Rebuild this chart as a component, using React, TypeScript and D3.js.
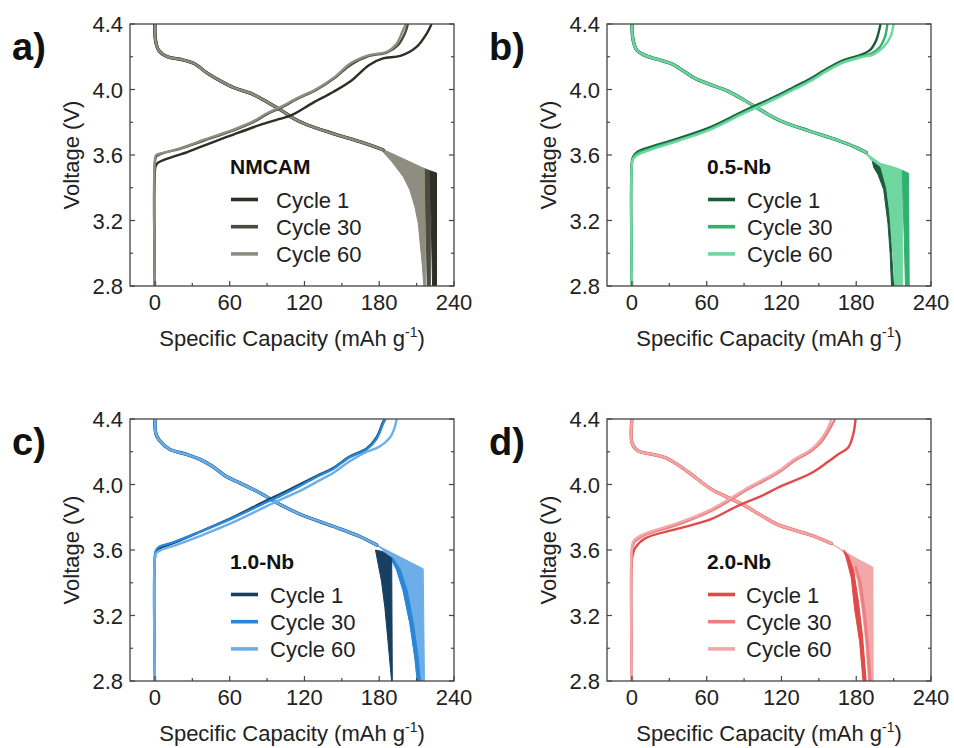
import React from 'react';
import * as d3 from 'd3';

type P = [number, number];

const xTicks = [0, 60, 120, 180, 240];
const xMinor = [30, 90, 150, 210];
const yTicks = [2.8, 3.2, 3.6, 4.0, 4.4];
const yMinor = [3.0, 3.4, 3.8, 4.2];
const cycleLabels = ['Cycle 1', 'Cycle 30', 'Cycle 60'];
const panelLetters = ['a)', 'b)', 'c)', 'd)'];
const sampleNames = ['NMCAM', '0.5-Nb', '1.0-Nb', '2.0-Nb'];

const colorsA = ['#2d2e25', '#4b4c3f', '#8d8e7f'];
const colorsB = ['#1b5c3b', '#31b06f', '#6fd6a0'];
const colorsC = ['#163f60', '#2a87d8', '#6eaee8'];
const colorsD = ['#e24a4a', '#ec7e80', '#f2a7a9'];

// ---------- Panel a (NMCAM) ----------
const aCharge1: P[] = [[0, 2.8], [0, 3.51], [1, 3.54], [3, 3.555], [10, 3.578], [26, 3.618], [42, 3.665], [63, 3.725], [85, 3.785], [100, 3.82], [110, 3.845], [127, 3.92], [143, 3.985], [157, 4.05], [172, 4.15], [183, 4.19], [197, 4.205], [210, 4.26], [218, 4.34], [222, 4.4]];
const aCharge30: P[] = [[0, 2.8], [0, 3.55], [1, 3.59], [6, 3.61], [20, 3.638], [40, 3.69], [63, 3.75], [80, 3.805], [90, 3.85], [100, 3.885], [115, 3.945], [130, 4.0], [145, 4.075], [157, 4.15], [172, 4.205], [186, 4.225], [195, 4.27], [201, 4.35], [203, 4.4]];
const aCharge60: P[] = [[0, 2.8], [0, 3.57], [1, 3.6], [8, 3.615], [20, 3.64], [40, 3.695], [63, 3.755], [80, 3.81], [90, 3.855], [100, 3.89], [115, 3.95], [130, 4.005], [145, 4.08], [157, 4.16], [172, 4.21], [186, 4.23], [194, 4.28], [199, 4.36], [201.5, 4.4]];
const aDischarge: P[] = [[0, 4.4], [0.5, 4.3], [3, 4.24], [10, 4.2], [20, 4.185], [31, 4.16], [42, 4.1], [53, 4.05], [63, 4.012], [77, 3.976], [90, 3.924], [103, 3.865], [111, 3.825], [122, 3.785], [143, 3.731], [165, 3.68], [183, 3.632]];
const aTail1: P[] = [[221, 3.503], [226, 3.49], [226, 2.8], [222.8, 2.8], [222, 3.1], [221.3, 3.35]];
const aTail30: P[] = [[217, 3.515], [221, 3.503], [221, 2.8], [218.5, 2.8], [217.8, 3.1], [217.2, 3.35]];
const aTail60: P[] = [[180, 3.645], [212.6, 3.53], [217, 3.515], [217, 2.8], [215.8, 2.8], [214.7, 2.918], [212.6, 3.08], [211.3, 3.183], [208.6, 3.284], [204.6, 3.386], [199.3, 3.467], [190, 3.56]];

// ---------- Panel b (0.5-Nb) ----------
const bCharge1: P[] = [[0, 2.8], [0, 3.56], [1, 3.59], [4.5, 3.62], [15, 3.65], [36.6, 3.7], [63, 3.77], [90, 3.87], [103, 3.915], [117, 3.965], [130, 4.015], [143, 4.065], [157, 4.13], [170, 4.18], [183, 4.21], [191, 4.24], [196, 4.3], [198, 4.35], [199.5, 4.4]];
const bCharge30: P[] = [[0, 2.8], [0, 3.55], [1, 3.585], [4.5, 3.61], [15, 3.64], [36.6, 3.69], [63, 3.76], [90, 3.86], [103, 3.905], [117, 3.955], [130, 4.005], [143, 4.055], [157, 4.12], [170, 4.17], [183, 4.2], [192, 4.22], [199, 4.26], [203, 4.32], [205, 4.4]];
const bCharge60: P[] = [[0, 2.8], [0, 3.54], [1, 3.575], [4.5, 3.6], [15, 3.632], [36.6, 3.685], [63, 3.755], [90, 3.855], [103, 3.9], [117, 3.95], [130, 4.0], [143, 4.05], [157, 4.115], [170, 4.165], [183, 4.195], [194, 4.215], [202, 4.26], [207.4, 4.32], [210, 4.4]];
const bDischarge: P[] = [[0, 4.4], [1, 4.3], [4, 4.24], [10, 4.21], [20, 4.185], [31, 4.16], [42, 4.11], [50, 4.07], [63, 4.03], [77, 3.99], [90, 3.935], [100, 3.89], [110, 3.845], [122, 3.8], [143, 3.745], [165, 3.69], [180, 3.645], [188, 3.615]];
const bTail1: P[] = [[193, 3.56], [199, 3.525], [203.5, 3.4], [206, 3.25], [208, 3.05], [210, 2.8], [208.3, 2.8], [207.2, 3.0], [205.5, 3.18], [202, 3.39], [197.5, 3.48], [194, 3.525]];
const bTail30: P[] = [[217, 3.506], [222, 3.488], [222.5, 2.8], [219.5, 2.8], [218.5, 3.1], [217.5, 3.35]];
const bTail60: P[] = [[186, 3.622], [199.2, 3.55], [212.6, 3.52], [217, 3.506], [217, 2.8], [211, 2.8], [209.5, 3.0], [207, 3.2], [203.5, 3.4], [199, 3.525], [193, 3.56]];

// ---------- Panel c (1.0-Nb) ----------
const cCharge1: P[] = [[0, 2.8], [0, 3.55], [1, 3.59], [3.5, 3.61], [14, 3.64], [35.7, 3.71], [62.5, 3.8], [89, 3.9], [103, 3.95], [116, 4.0], [132, 4.06], [143, 4.1], [156, 4.17], [170, 4.22], [178, 4.29], [183, 4.38], [184.5, 4.4]];
const cCharge30: P[] = [[0, 2.8], [0, 3.57], [1, 3.6], [3.5, 3.62], [14, 3.645], [35.7, 3.71], [62.5, 3.795], [89, 3.89], [103, 3.94], [116, 3.99], [132, 4.055], [143, 4.095], [156, 4.165], [170, 4.215], [178, 4.28], [183, 4.37], [185, 4.4]];
const cCharge60: P[] = [[0, 2.8], [0, 3.55], [1, 3.58], [5, 3.6], [15, 3.625], [36, 3.685], [63, 3.77], [89, 3.865], [100, 3.905], [116, 3.96], [132, 4.025], [143, 4.07], [156, 4.14], [170, 4.2], [180, 4.23], [188.5, 4.285], [192, 4.34], [194, 4.4]];
const cDischarge: P[] = [[0, 4.4], [0.8, 4.31], [3.5, 4.27], [11.5, 4.216], [25, 4.185], [35.7, 4.155], [46.4, 4.11], [57, 4.05], [68, 4.01], [84, 3.95], [100, 3.88], [116, 3.82], [143, 3.745], [164, 3.684], [178, 3.63]];
const cTail1: P[] = [[177, 3.6], [183, 3.59], [190, 3.55], [190.5, 2.8], [189.9, 2.8], [187, 3.045], [184.5, 3.25], [181.8, 3.41], [179, 3.52]];
const cTail30: P[] = [[188.5, 3.56], [193.9, 3.48], [199.2, 3.35], [204.6, 3.15], [208.6, 2.94], [210.5, 2.8], [213, 2.8], [211, 2.96], [207.5, 3.15], [202.5, 3.35], [197, 3.48], [191, 3.55]];
const cTail60: P[] = [[178, 3.63], [215.3, 3.485], [216.3, 2.8], [210.5, 2.8], [208.6, 2.94], [204.6, 3.15], [199.2, 3.35], [193.9, 3.48], [188.5, 3.56], [183, 3.6]];

// ---------- Panel d (2.0-Nb) ----------
const dCharge1: P[] = [[0, 2.8], [0, 3.54], [1, 3.58], [2.4, 3.61], [10.4, 3.67], [37, 3.73], [64, 3.79], [85, 3.87], [104, 3.93], [117, 3.98], [144, 4.07], [157.6, 4.14], [165.6, 4.185], [173.6, 4.226], [177.7, 4.31], [179.5, 4.4]];
const dCharge30: P[] = [[0, 2.8], [0, 3.6], [1, 3.63], [2.4, 3.65], [10.4, 3.69], [37, 3.755], [64, 3.84], [80, 3.91], [90.7, 3.96], [117, 4.07], [130.6, 4.145], [144, 4.205], [152, 4.26], [158, 4.33], [161, 4.37], [163, 4.4]];
const dCharge60: P[] = [[0, 2.8], [0, 3.62], [1, 3.65], [2.4, 3.665], [10.4, 3.7], [37, 3.765], [64, 3.85], [80, 3.92], [90.7, 3.97], [117, 4.08], [130.6, 4.155], [144, 4.216], [152, 4.28], [157.6, 4.35], [160, 4.4]];
const dDischarge: P[] = [[0, 4.4], [0.3, 4.25], [5, 4.205], [15.8, 4.185], [26.5, 4.165], [37, 4.12], [48, 4.06], [64, 3.97], [80, 3.91], [90.7, 3.87], [104, 3.81], [117, 3.755], [144, 3.69], [160, 3.64]];
const dTail1: P[] = [[170, 3.6], [174, 3.56], [178, 3.47], [181.5, 3.3], [185, 3.08], [188, 2.8], [185.4, 2.8], [182.7, 3.04], [178.7, 3.24], [176, 3.43], [172, 3.55]];
const dTail30: P[] = [[180, 3.5], [184, 3.4], [187.5, 3.2], [190, 3.0], [192, 2.8], [190.3, 2.8], [188.5, 3.0], [186, 3.2], [182.5, 3.4], [179, 3.5]];
const dTail60: P[] = [[160, 3.64], [170.6, 3.59], [182, 3.54], [193.4, 3.495], [193.6, 2.8], [190, 2.8], [187.5, 3.05], [184.5, 3.25], [181, 3.42], [176, 3.52], [168, 3.6]];

const FONT = 'Liberation Sans, Arial, Helvetica, sans-serif';
const PW = 324;
const PH = 262;

type PanelProps = {
  id: string;
  px: number;
  py: number;
  letter: string;
  name: string;
  colors: string[];
  charges: P[][];
  discharge: P[];
  tails: P[][];
  legDx: number;
};

function Panel({ id, px, py, letter, name, colors, charges, discharge, tails, legDx }: PanelProps) {
  const x = d3.scaleLinear().domain([-20, 240]).range([px, px + PW]);
  const y = d3.scaleLinear().domain([2.8, 4.4]).range([py + PH, py]);
  const line = d3.line<P>().x((d) => x(d[0])).y((d) => y(d[1])).curve(d3.curveCatmullRom.alpha(0.5));
  const poly = d3.line<P>().x((d) => x(d[0])).y((d) => y(d[1]));
  const textColor = '#222';
  const frame = '#444';
  const bodyWidths = [3.4, 2.8, 2.3];
  return (
    <g>
      <defs>
        <clipPath id={id}>
          <rect x={px} y={py} width={PW} height={PH} />
        </clipPath>
      </defs>
      <g clipPath={`url(#${id})`}>
        {[2, 1, 0].map((i) => (
          <path key={'t' + i} d={(poly(tails[i]) || '') + 'Z'} fill={colors[i]} stroke={colors[i]} strokeWidth={1} strokeLinejoin="round" />
        ))}
        {[0, 1, 2].map((i) => (
          <path key={'d' + i} d={line(discharge) || ''} fill="none" stroke={colors[i]} strokeWidth={bodyWidths[i]} strokeLinejoin="round" strokeLinecap="round" />
        ))}
        {[0, 1, 2].map((i) => (
          <path key={'c' + i} d={line(charges[i]) || ''} fill="none" stroke={colors[i]} strokeWidth={2.4} strokeLinejoin="round" />
        ))}
      </g>
      <rect x={px} y={py} width={PW} height={PH} fill="none" stroke={frame} strokeWidth={1.3} />
      {xTicks.map((t) => (
        <g key={'xt' + t}>
          <line x1={x(t)} x2={x(t)} y1={py + PH} y2={py + PH - 5} stroke={frame} strokeWidth={1.2} />
          <text x={x(t)} y={py + PH + 24} textAnchor="middle" fontSize={22} fill={textColor} fontFamily={FONT}>{t}</text>
        </g>
      ))}
      {xMinor.map((t) => (
        <line key={'xm' + t} x1={x(t)} x2={x(t)} y1={py + PH} y2={py + PH - 3} stroke={frame} strokeWidth={1.2} />
      ))}
      {yTicks.map((t) => (
        <g key={'yt' + t}>
          <line x1={px} x2={px + 5} y1={y(t)} y2={y(t)} stroke={frame} strokeWidth={1.2} />
          <line x1={px + PW} x2={px + PW - 5} y1={y(t)} y2={y(t)} stroke={frame} strokeWidth={1.2} />
          <text x={px - 7} y={y(t) + 8} textAnchor="end" fontSize={22} fill={textColor} fontFamily={FONT}>{t.toFixed(1)}</text>
        </g>
      ))}
      {yMinor.map((t) => (
        <g key={'ym' + t}>
          <line x1={px} x2={px + 3} y1={y(t)} y2={y(t)} stroke={frame} strokeWidth={1.2} />
          <line x1={px + PW} x2={px + PW - 3} y1={y(t)} y2={y(t)} stroke={frame} strokeWidth={1.2} />
        </g>
      ))}
      <text x={px + PW / 2} y={py + PH + 60} textAnchor="middle" fontSize={22} fill={textColor} fontFamily={FONT}>
        Specific Capacity (mAh g<tspan dy={-9} fontSize={14}>-1</tspan><tspan dy={9}>)</tspan>
      </text>
      <text transform={`translate(${px - 51},${py + PH / 2}) rotate(-90)`} textAnchor="middle" fontSize={22} fill={textColor} fontFamily={FONT}>
        Voltage (V)
      </text>
      <text x={px - 118} y={py + 36} fontSize={38} fontWeight="bold" fill="#111" fontFamily={FONT}>{letter}</text>
      <text x={px + 100} y={py + 150} fontSize={21} fontWeight="bold" fill="#111" fontFamily={FONT}>{name}</text>
      {cycleLabels.map((lab, i) => {
        const ly = py + 175.5 + i * 27.2;
        return (
          <g key={lab}>
            <line x1={px + 101} x2={px + 128} y1={ly} y2={ly} stroke={colors[i]} strokeWidth={3.6} />
            <text x={px + legDx} y={ly + 8} fontSize={22} fill={textColor} fontFamily={FONT}>{lab}</text>
          </g>
        );
      })}
    </g>
  );
}

export default function App() {
  return (
    <svg width={954} height={748} style={{ position: 'absolute', left: 0, top: 0, background: '#fff' }}>
      <rect width={954} height={748} fill="#fff" />
      <Panel id="ca" px={130} py={24} letter={panelLetters[0]} name={sampleNames[0]} colors={colorsA}
        charges={[aCharge1, aCharge30, aCharge60]} discharge={aDischarge} tails={[aTail1, aTail30, aTail60]} legDx={146} />
      <Panel id="cb" px={607} py={24} letter={panelLetters[1]} name={sampleNames[1]} colors={colorsB}
        charges={[bCharge1, bCharge30, bCharge60]} discharge={bDischarge} tails={[bTail1, bTail30, bTail60]} legDx={140} />
      <Panel id="cc" px={130} py={419} letter={panelLetters[2]} name={sampleNames[2]} colors={colorsC}
        charges={[cCharge1, cCharge30, cCharge60]} discharge={cDischarge} tails={[cTail1, cTail30, cTail60]} legDx={140} />
      <Panel id="cd" px={607} py={419} letter={panelLetters[3]} name={sampleNames[3]} colors={colorsD}
        charges={[dCharge1, dCharge30, dCharge60]} discharge={dDischarge} tails={[dTail1, dTail30, dTail60]} legDx={139} />
    </svg>
  );
}
